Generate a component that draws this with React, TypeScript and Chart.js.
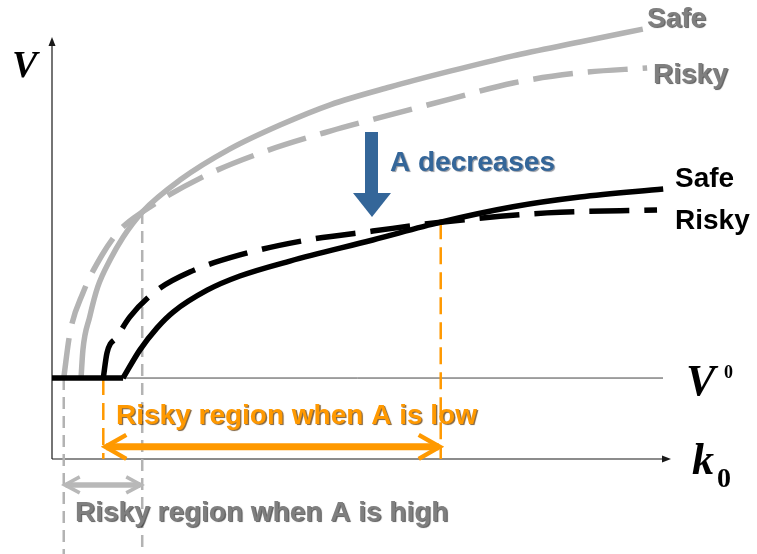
import React, { useEffect, useRef } from "react";
import { Chart, registerables } from "chart.js";

Chart.register(...registerables);

type Pt = [number, number];

// Firm value V as a function of the cost parameter k0 (arbitrary units).
const V0 = 2;

// High A (grey curves)
const safeHighA: Pt[] = [
  [0.47, 2.0], [0.5, 2.69], [0.61, 3.51], [0.74, 4.25], [0.94, 4.92], [1.15, 5.48],
  [1.46, 6.1], [2.07, 6.89], [2.88, 7.66], [3.69, 8.25], [4.5, 8.75], [5.47, 9.19],
  [6.44, 9.58], [7.46, 9.96], [8.54, 10.3], [9.56, 10.62],
];
const riskyHighA: Pt[] = [
  [0.19, 2.0], [0.29, 3.11], [0.5, 4.1], [0.81, 5.04], [1.1, 5.66], [1.46, 6.1],
  [2.44, 6.97], [3.41, 7.58], [4.5, 8.1], [5.47, 8.5], [6.44, 8.89], [7.46, 9.29],
  [8.54, 9.54], [9.63, 9.66],
];

// Low A (black curves)
const floorLowA: Pt[] = [[0, V0], [1.15, V0]];
const safeLowA: Pt[] = [
  [1.15, 2.0], [1.42, 2.69], [1.7, 3.24], [1.96, 3.63], [2.51, 4.17], [3.04, 4.52],
  [3.85, 4.89], [5.19, 5.41], [6.29, 5.85], [7.46, 6.23], [8.54, 6.47], [9.89, 6.67],
];
const riskyLowA: Pt[] = [
  [0.83, 2.0], [0.89, 2.62], [1.05, 3.01], [1.26, 3.51], [1.7, 4.17], [2.23, 4.62],
  [3.04, 5.04], [4.13, 5.41], [5.19, 5.63], [6.29, 5.85], [8.01, 6.08], [9.79, 6.15],
];

// Risky regions on the k0 axis and the V level where safe and risky curves cross
const highARegion: Pt = [0.19, 1.46];
const lowARegion: Pt = [0.83, 6.29];
const highACrossV = 6.1;
const lowACrossV = 5.85;

// Heights of the region arrows and the lower end of the dashed guides
const lowArrowV = 0.3;
const highArrowV = -0.64;
const guideBottomV = -2.4;

const K_MAX = 10;
const V_MAX = 10.4;

const curveLabels = ["Safe", "Risky"];
const shiftLabel = "A decreases";
const lowRegionLabel = "Risky region when A is low";
const highRegionLabel = "Risky region when A is high";

const GREY = "#b3b3b3";
const ORANGE = "#ff9900";
const BLUE = "#346699";
const SANS = '"Liberation Sans", Arial, sans-serif';
const SERIF = '"Liberation Serif", "Times New Roman", serif';

const toXY = (pts: Pt[]) => pts.map(([x, y]) => ({ x, y }));

const curve = (label: string, pts: Pt[], color: string, dash: number[], order: number) => ({
  label,
  data: toXY(pts),
  borderColor: color,
  borderWidth: 5.5,
  borderDash: dash,
  borderCapStyle: "butt" as const,
  borderJoinStyle: "round" as const,
  pointRadius: 0,
  fill: false,
  cubicInterpolationMode: "monotone" as const,
  clip: false as const,
  order,
});

const guide = (label: string, k: number, vTop: number, vBottom: number, color: string, dash: number[], order: number) => ({
  label,
  data: toXY([[k, vTop], [k, vBottom]]),
  borderColor: color,
  borderWidth: 2.5,
  borderDash: dash,
  pointRadius: 0,
  fill: false,
  tension: 0,
  clip: false as const,
  order,
});

function text(ctx: CanvasRenderingContext2D, s: string, x: number, y: number, color: string, font: string, shadow: string | null) {
  ctx.save();
  ctx.font = font;
  ctx.fillStyle = color;
  ctx.textAlign = "left";
  ctx.textBaseline = "alphabetic";
  if (shadow) {
    ctx.shadowColor = shadow;
    ctx.shadowOffsetX = 1.3;
    ctx.shadowOffsetY = 1.3;
    ctx.shadowBlur = 0.8;
  }
  ctx.fillText(s, x, y);
  ctx.restore();
}

function doubleArrow(ctx: CanvasRenderingContext2D, x1: number, x2: number, yy: number, color: string,
  shaft: number, head: number, headLen: number, headHalf: number) {
  ctx.save();
  ctx.strokeStyle = color;
  ctx.lineCap = "butt";
  ctx.lineWidth = shaft;
  ctx.beginPath();
  ctx.moveTo(x1 + 2, yy);
  ctx.lineTo(x2 - 2, yy);
  ctx.stroke();
  ctx.lineWidth = head;
  ctx.lineJoin = "miter";
  ctx.beginPath();
  ctx.moveTo(x1 + headLen, yy - headHalf);
  ctx.lineTo(x1 + 1, yy);
  ctx.lineTo(x1 + headLen, yy + headHalf);
  ctx.moveTo(x2 - headLen, yy - headHalf);
  ctx.lineTo(x2 - 1, yy);
  ctx.lineTo(x2 - headLen, yy + headHalf);
  ctx.stroke();
  ctx.restore();
}

// Axes with arrowheads and the V0 reference level
const axesPlugin = {
  id: "axesArrows",
  beforeDatasetsDraw(chart: Chart) {
    const { ctx, chartArea: a, scales } = chart;
    const y = scales.y;
    ctx.save();
    ctx.strokeStyle = "#1a1a1a";
    ctx.fillStyle = "#1a1a1a";
    ctx.lineWidth = 1.2;
    ctx.beginPath();
    ctx.moveTo(a.left, a.bottom);
    ctx.lineTo(a.left, a.top + 5);
    ctx.moveTo(a.left, a.bottom);
    ctx.lineTo(a.right - 5, a.bottom);
    ctx.stroke();
    ctx.beginPath();
    ctx.moveTo(a.left, a.top - 1);
    ctx.lineTo(a.left - 3.5, a.top + 8);
    ctx.lineTo(a.left + 3.5, a.top + 8);
    ctx.closePath();
    ctx.fill();
    ctx.beginPath();
    ctx.moveTo(a.right + 1, a.bottom);
    ctx.lineTo(a.right - 8, a.bottom - 3.5);
    ctx.lineTo(a.right - 8, a.bottom + 3.5);
    ctx.closePath();
    ctx.fill();
    const yv = y.getPixelForValue(V0);
    ctx.strokeStyle = "#444";
    ctx.lineWidth = 1;
    ctx.beginPath();
    ctx.moveTo(a.left, yv);
    ctx.lineTo(a.right - 7, yv);
    ctx.stroke();
    ctx.restore();
  },
};

// Region arrows, the shift arrow and all text
const notesPlugin = {
  id: "notes",
  afterDatasetsDraw(chart: Chart) {
    const { ctx, scales } = chart;
    const x = scales.x;
    const y = scales.y;

    doubleArrow(ctx, x.getPixelForValue(lowARegion[0]) + 1, x.getPixelForValue(lowARegion[1]),
      y.getPixelForValue(lowArrowV), ORANGE, 7, 4.5, 22, 12);
    doubleArrow(ctx, x.getPixelForValue(highARegion[0]), x.getPixelForValue(highARegion[1]),
      y.getPixelForValue(highArrowV), "#b8b8b8", 5.5, 3.5, 16, 8);

    // "A decreases" arrow
    ctx.save();
    ctx.fillStyle = BLUE;
    ctx.fillRect(365, 132, 13, 62);
    ctx.beginPath();
    ctx.moveTo(353, 193);
    ctx.lineTo(391, 193);
    ctx.lineTo(372, 217);
    ctx.closePath();
    ctx.fill();
    ctx.restore();

    const bold28 = `bold 28px ${SANS}`;
    const shade = "rgba(30,30,30,0.7)";
    text(ctx, curveLabels[0], 647, 27, "#7f7f7f", bold28, shade);
    text(ctx, curveLabels[1], 653, 83, "#7f7f7f", bold28, shade);
    text(ctx, shiftLabel, 390, 171, BLUE, bold28, "rgba(20,30,50,0.45)");
    text(ctx, curveLabels[0], 675, 187, "#000", bold28, null);
    text(ctx, curveLabels[1], 675, 229, "#000", bold28, null);
    text(ctx, lowRegionLabel, 116, 424, ORANGE, bold28, "rgba(90,50,0,0.75)");
    text(ctx, highRegionLabel, 75, 521, "#7f7f7f", bold28, shade);

    // Axis symbols
    text(ctx, "V", 12, 77, "#000", `italic bold 38px ${SERIF}`, null);
    text(ctx, "V", 686, 395, "#000", `italic bold 44px ${SERIF}`, null);
    text(ctx, "0", 724, 378, "#000", `bold 18px ${SERIF}`, null);
    text(ctx, "k", 692, 474, "#000", `italic bold 44px ${SERIF}`, null);
    text(ctx, "0", 717, 487, "#000", `bold 28px ${SERIF}`, null);
  },
};

export default function App() {
  const canvasRef = useRef<HTMLCanvasElement | null>(null);

  useEffect(() => {
    const canvas = canvasRef.current;
    if (!canvas) return;
    const chart = new Chart(canvas, {
      type: "line",
      data: {
        datasets: [
          guide("high A risky bound", highARegion[0], V0, guideBottomV, GREY, [12, 7], 10),
          guide("high A safe bound", highARegion[1], highACrossV, guideBottomV, GREY, [12, 7], 10),
          guide("low A risky bound", lowARegion[0], V0, 0, ORANGE, [17, 8], 9),
          guide("low A safe bound", lowARegion[1], lowACrossV, 0, ORANGE, [17, 8], 9),
          curve("Safe, high A", safeHighA, GREY, [], 6),
          curve("Risky, high A", riskyHighA, GREY, [40, 15], 5),
          curve("Risky, low A", riskyLowA, "#000", [40, 15], 3),
          curve("Safe, low A", safeLowA, "#000", [], 2),
          curve("V0 floor, low A", floorLowA, "#000", [], 1),
        ] as any,
      },
      options: {
        responsive: false,
        animation: false,
        devicePixelRatio: 1,
        layout: { padding: { left: 52, right: 87, top: 38, bottom: 95 } },
        plugins: { legend: { display: false }, tooltip: { enabled: false } },
        events: [],
        scales: {
          x: { type: "linear", min: 0, max: K_MAX, display: false },
          y: { type: "linear", min: 0, max: V_MAX, display: false },
        },
      },
      plugins: [axesPlugin, notesPlugin],
    });
    return () => chart.destroy();
  }, []);

  return (
    <div style={{ position: "absolute", left: 0, top: 0, width: 757, height: 554, background: "#fff" }}>
      <canvas ref={canvasRef} width={757} height={554} />
    </div>
  );
}
